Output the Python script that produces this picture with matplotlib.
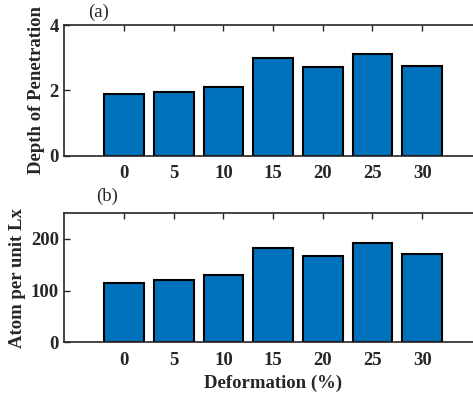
import matplotlib
matplotlib.use("Agg")
import matplotlib.pyplot as plt

# Deformation levels and measured quantities
deformation = [0, 5, 10, 15, 20, 25, 30]
depth_of_penetration = [1.88, 1.96, 2.10, 2.98, 2.71, 3.11, 2.76]
atoms_per_unit_lx = [115, 120, 130, 183, 167, 192, 171]

plt.rcParams['font.family'] = ['Liberation Serif', 'DejaVu Serif']
plt.rcParams['font.weight'] = 'bold'

bar_color = '#0072BD'
axis_color = '#262626'
fs = 13.5

fig = plt.figure(figsize=(4.73, 3.96), dpi=100)
ax_a = fig.add_axes([0.136, 0.607, 0.8827, 0.3293])
ax_b = fig.add_axes([0.136, 0.1356, 0.8827, 0.3265])

def style(ax, values, ylim, yticks, ylabel):
    ax.bar(deformation, values, width=4, color=bar_color,
           edgecolor='black', linewidth=1.5, zorder=2)
    ax.set_xlim(-6, 36)
    ax.set_ylim(*ylim)
    ax.set_xticks(deformation)
    ax.set_xticklabels([str(d) for d in deformation])
    ax.set_yticks(yticks)
    ax.tick_params(direction='in', top=True, right=False, length=4,
                   width=1, colors=axis_color, labelsize=fs, pad=7)
    ax.tick_params(axis='y', pad=4)
    for s in ['left', 'top', 'bottom']:
        ax.spines[s].set_color(axis_color)
        ax.spines[s].set_linewidth(1.2)
        ax.spines[s].set_zorder(3)
    ax.spines['right'].set_visible(False)
    ax.set_ylabel(ylabel, fontsize=fs, fontweight='bold', color=axis_color,
                  labelpad=3)
    for lbl in ax.get_xticklabels() + ax.get_yticklabels():
        lbl.set_fontweight('bold')

style(ax_a, depth_of_penetration, (0, 4), [0, 2, 4], 'Depth of Penetration')
style(ax_b, atoms_per_unit_lx, (0, 250), [0, 100, 200], 'Atom per unit Lx')
ax_b.set_xlabel('Deformation (%)', fontsize=fs, fontweight='bold',
                color=axis_color, labelpad=4)

fig.text(99 / 473, 1 - 12 / 396, '(a)', fontsize=fs, fontweight='normal',
         ha='center', va='center', color=axis_color)
fig.text(107 / 473, 1 - 196 / 396, '(b)', fontsize=fs, fontweight='normal',
         ha='center', va='center', color=axis_color)

fig.savefig('out.png', dpi=100)
